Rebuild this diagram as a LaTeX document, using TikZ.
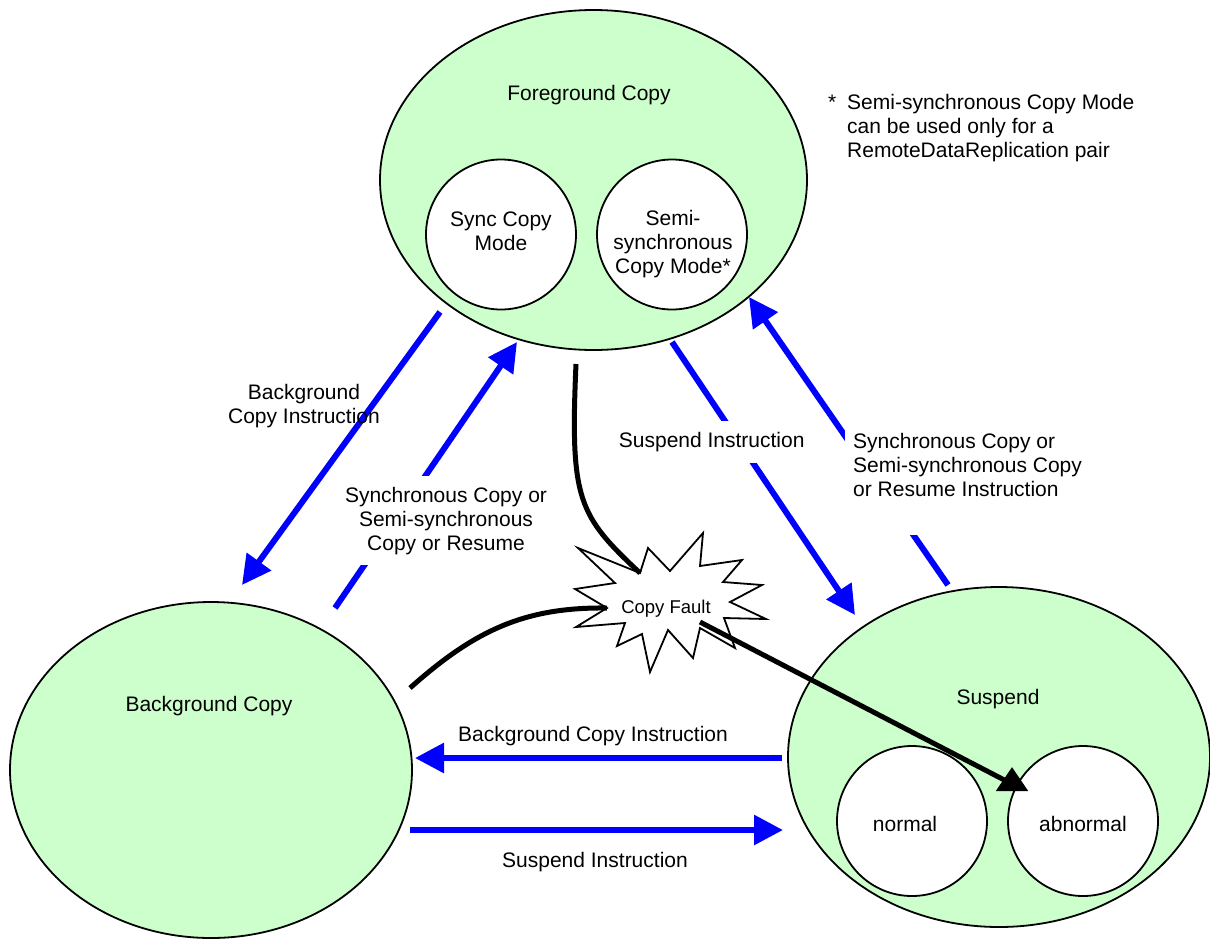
\documentclass[tikz,border=0pt]{standalone}
\usepackage{fontspec}
\setmainfont{Liberation Sans}
\usetikzlibrary{shapes.geometric,arrows.meta}

\definecolor{stategreen}{RGB}{204,255,204}
\definecolor{flowblue}{RGB}{0,0,255}

\begin{document}
\begin{tikzpicture}[x=1pt,y=-1pt,
  state/.style={ellipse,draw=black,line width=1.8pt,fill=stategreen,inner sep=0pt},
  mode/.style={circle,draw=black,line width=1.8pt,fill=white,inner sep=0pt,minimum size=150pt},
  txt/.style={inner sep=0pt,font=\fontsize{21}{24}\selectfont,align=center},
  flow/.style={draw=flowblue,line width=6pt,-{Triangle[length=29pt,width=29pt]}},
  fault/.style={draw=black,line width=5pt,line join=round},
  gapl/.style={txt,fill=white,inner xsep=3pt,inner ysep=11pt}
]
\useasboundingbox (0,0) rectangle (1210,938);

% states
\node[state,minimum width=427pt,minimum height=340pt] (fg)  at (593.5,180) {};
\node[state,minimum width=402pt,minimum height=336pt] (bg)  at (211,770) {};
\node[state,minimum width=422pt,minimum height=340pt] (sus) at (999,757) {};

% sub-modes
\node[mode] (sync) at (501,234.5) {};
\node[mode] (semi) at (672,234.5) {};
\node[mode] (norm) at (912,821) {};
\node[mode] (abn)  at (1083,821) {};

% state texts
\node[txt,anchor=base]  (fgt)   at (589,100)   {Foreground Copy};
\node[txt,anchor=base]  (bgt)   at (209,711.7) {Background Copy};
\node[txt,anchor=base]  (sust)  at (998,704)   {Suspend};
\node[txt,anchor=base]  (normt) at (905,831.7) {normal};
\node[txt,anchor=base]  (abnt)  at (1083,831.7) {abnormal};
\node[txt,anchor=north] (synct) at (501,211.7) {Sync Copy\\Mode};
\node[txt,anchor=north] (semit) at (673,210)   {Semi-\\synchronous\\Copy Mode*};

% footnote
\node[txt,anchor=north west,align=left] (note) at (828,94)
  {\makebox[19pt][l]{*}Semi-synchronous Copy Mode\\
   \hspace*{19pt}can be used only for a\\
   \hspace*{19pt}RemoteDataReplication pair};

% end points of the transitions
\coordinate (a1s) at (440,312);  \coordinate (a1e) at (242,585);
\coordinate (a2s) at (335,608);  \coordinate (a2e) at (517,342);
\coordinate (a3s) at (672,342);  \coordinate (a3e) at (855,615);
\coordinate (a4s) at (948,585);  \coordinate (a4e) at (749,297);
\coordinate (h1s) at (782,758);  \coordinate (h1e) at (415,758);
\coordinate (h2s) at (410,830);  \coordinate (h2e) at (783,830);

% transitions
\draw[flow] (a1s) -- (a1e);
\draw[flow] (a2s) -- (a2e);
\draw[flow] (a3s) -- (a3e);
\draw[flow] (a4s) -- (a4e);
\draw[flow] (h1s) -- (h1e);
\draw[flow] (h2s) -- (h2e);

% transition labels
\node[txt,anchor=north] (l1) at (304,384) {Background\\Copy Instruction};
\node[gapl,anchor=north] (l2) at (446,475.7)
  {Synchronous Copy or\\Semi-synchronous\\Copy or Resume};
\node[gapl,anchor=base] (l3) at (711.7,447.7) {Suspend Instruction};
\node[gapl,anchor=north west,align=left,inner xsep=8pt,inner ysep=6pt] (l4) at (845,427)
  {Synchronous Copy or\\Semi-synchronous Copy\\or Resume Instruction\rule[-33pt]{0pt}{33pt}};
\node[txt,anchor=base] (hl1) at (593,741.7) {Background Copy Instruction};
\node[txt,anchor=base] (hl2) at (595,867.7) {Suspend Instruction};

% copy fault burst
\draw[line width=1.8pt,fill=white,line join=miter]
  (578,548) -- (640,573) -- (648,548) -- (670,571) -- (703,533) -- (700,566)
  -- (742,560) -- (723,582) -- (762,585) -- (730,602) -- (766,619) -- (724,618)
  -- (735,648) -- (700,628) -- (693,658) -- (668,630) -- (650,672) -- (642,634)
  -- (617,646) -- (625,623) -- (576,627) -- (607,608) -- (575,589) -- (615,583)
  -- cycle;
\node[inner sep=0pt,font=\fontsize{18.5}{22}\selectfont,anchor=base] (cft) at (666,613.3) {Copy Fault};

\coordinate (fgout) at (576,364);
\coordinate (bgout) at (410,688);
\coordinate (cfN)  at (640,573);
\coordinate (cfW)  at (607,608);
\coordinate (cfSE) at (700,622);
\coordinate (abbase) at (1012,784);
\coordinate (abtop)  at (1012,767);

\draw[fault] (fgout) .. controls (570,500) and (578,515) .. (cfN);
\draw[fault] (bgout) .. controls (475,630) and (525,607) .. (cfW);
\draw[fault,-{Triangle[length=24pt,width=31pt]}] (cfSE) -- (abbase) -- (abtop);

\end{tikzpicture}
\end{document}
